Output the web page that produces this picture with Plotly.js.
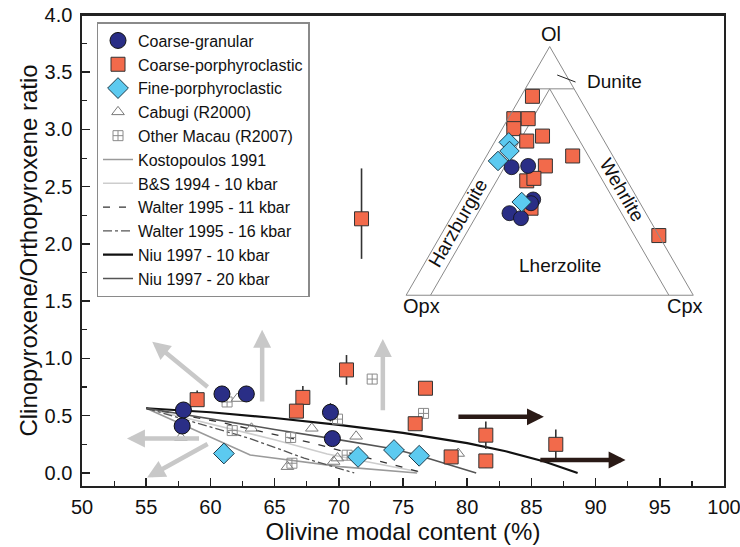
<!DOCTYPE html>
<html><head><meta charset="utf-8">
<script src="https://cdn.plot.ly/plotly-3.0.1.min.js"></script>
<style>html,body{margin:0;padding:0;background:#fff}#chart{width:740px;height:547px}</style>
</head><body><div id="chart"></div>
<script>
// ---- main diagram data ----
const xCG = [57.9, 57.8, 60.9, 62.8, 69.35, 69.5];
const yCG = [0.55, 0.41, 0.69, 0.69, 0.53, 0.30];
const eCG = [0.06, 0.05, 0.07, 0.07, 0.08, 0.05];

const xCP = [58.97, 67.2, 66.7, 70.6, 76.75, 75.95, 78.75, 81.45, 81.45, 86.9, 71.77];
const yCP = [0.64, 0.66, 0.54, 0.90, 0.74, 0.43, 0.14, 0.33, 0.105, 0.25, 2.22];
const ePlusCP = [0.08, 0.10, 0.04, 0.13, 0.04, 0.04, 0.04, 0.12, 0.06, 0.13, 0.44];
const eMinusCP = [0.04, 0.04, 0.04, 0.13, 0.04, 0.04, 0.04, 0.12, 0.06, 0.13, 0.35];

const xFP = [61.05, 71.5, 74.3, 76.26];
const yFP = [0.17, 0.14, 0.20, 0.15];

const xCab = [57.7, 62.1, 63.2, 67.9, 71.35, 69.9, 66.0, 69.6, 79.3];
const yCab = [0.31, 0.65, 0.39, 0.39, 0.32, 0.13, 0.055, 0.10, 0.17];

const xMac = [61.3, 61.7, 66.25, 72.6, 66.35, 70.65, 76.6, 69.9];
const yMac = [0.62, 0.37, 0.31, 0.82, 0.085, 0.155, 0.52, 0.47];

const xKosto = [55, 63.1, 70.1, 76.1];
const yKosto = [0.565, 0.157, 0.055, 0.0];
const xBS = [55, 60, 65, 69.1, 76.2];
const yBS = [0.565, 0.43, 0.29, 0.165, 0.01];
const xW11 = [55, 60.5, 68.0, 74.8, 76.6];
const yW11 = [0.565, 0.45, 0.26, 0.055, 0.0];
const xW16 = [55, 63.1, 67.3, 71.2];
const yW16 = [0.565, 0.30, 0.13, 0.0];
const xNiu10 = [55, 60, 65, 70, 75, 80, 83, 86, 88.6];
const yNiu10 = [0.565, 0.53, 0.48, 0.42, 0.35, 0.26, 0.19, 0.10, 0.0];
const xNiu20 = [55, 60, 65, 69.5, 74.3, 76.3, 80.7];
const yNiu20 = [0.565, 0.47, 0.38, 0.30, 0.21, 0.15, 0.0];

// arrows (head / tail)
const greyHeadX = [55.47, 64.03, 73.43, 53.5, 55.07];
const greyHeadY = [1.147, 1.25, 1.17, 0.30, -0.04];
const greyTailX = [59.9, 64.03, 73.43, 59.23, 59.9];
const greyTailY = [0.74, 0.61, 0.535, 0.30, 0.26];
const darkHeadX = [85.97, 92.33];
const darkHeadY = [0.49, 0.113];
const darkTailX = [79.2, 85.58];
const darkTailY = [0.49, 0.113];

// ---- ternary inset data (Ol, Opx, Cpx fractions) ----
const olCP  = [0.80, 0.71, 0.71, 0.67, 0.64, 0.62, 0.56, 0.52, 0.46, 0.47, 0.35, 0.24];
const opxCP = [0.16, 0.27, 0.22, 0.29, 0.205, 0.27, 0.14, 0.255, 0.35, 0.32, 0.39, 0.00];
const cpxCP = [0.04, 0.02, 0.07, 0.04, 0.155, 0.11, 0.30, 0.225, 0.19, 0.21, 0.26, 0.76];
const olCG  = [0.515, 0.52, 0.385, 0.37, 0.33, 0.31];
const opxCG = [0.375, 0.315, 0.365, 0.38, 0.475, 0.445];
const cpxCG = [0.11, 0.165, 0.25, 0.25, 0.195, 0.245];
const olFP  = [0.615, 0.58, 0.54, 0.375];
const opxFP = [0.335, 0.35, 0.41, 0.41];
const cpxFP = [0.05, 0.07, 0.05, 0.215];
// classification field boundaries
const olDun = [0.83, 0.83];  const opxDun = [0.17, 0.0];  const cpxDun = [0.0, 0.17];
const olHz  = [0.83, 0.0];   const opxHz  = [0.085, 0.915]; const cpxHz = [0.085, 0.085];
const olWh  = [0.83, 0.0];   const opxWh  = [0.085, 0.085]; const cpxWh = [0.085, 0.915];

const FONT = 'Liberation Sans, Arial, Helvetica, sans-serif';
const cNavy = '#2a2e86', cOrange = '#f26a4b', cBlue = '#5ccaf0';

const traces = [
  {x: xKosto, y: yKosto, mode: 'lines', name: 'Kostopoulos 1991', line: {color: '#9a9a9a', width: 1.6}, legendrank: 6},
  {x: xBS, y: yBS, mode: 'lines', name: 'B&S 1994 - 10 kbar', line: {color: '#cdcdcd', width: 1.6}, legendrank: 7},
  {x: xW11, y: yW11, mode: 'lines', name: 'Walter 1995 - 11 kbar', line: {color: '#333', width: 1.3, dash: '7px,9px'}, legendrank: 8},
  {x: xW16, y: yW16, mode: 'lines', name: 'Walter 1995 - 16 kbar', line: {color: '#555', width: 1.3, dash: 'dashdot'}, legendrank: 9},
  {x: xNiu10, y: yNiu10, mode: 'lines', name: 'Niu 1997 - 10 kbar', line: {color: '#111', width: 2.2}, legendrank: 10},
  {x: xNiu20, y: yNiu20, mode: 'lines', name: 'Niu 1997 - 20 kbar', line: {color: '#555', width: 1.6}, legendrank: 11},
  {x: xCab, y: yCab, mode: 'markers', name: 'Cabugi (R2000)', marker: {symbol: 'triangle-up-open', size: 11, color: '#7a7a7a', line: {width: 1}}, legendrank: 4},
  {x: xMac, y: yMac, mode: 'markers', name: 'Other Macau (R2007)', marker: {symbol: 'square-cross-open', size: 10, color: '#8a8a8a', line: {width: 1}}, legendrank: 5},
  {x: xCP, y: yCP, mode: 'markers', name: 'Coarse-porphyroclastic',
   marker: {symbol: 'square', size: 14, color: cOrange, line: {color: '#333', width: 1}},
   error_y: {type: 'data', symmetric: false, array: ePlusCP, arrayminus: eMinusCP, color: '#333', thickness: 1.6, width: 0}, legendrank: 2},
  {x: xCG, y: yCG, mode: 'markers', name: 'Coarse-granular',
   marker: {symbol: 'circle', size: 16, color: cNavy, line: {color: '#111', width: 1}},
   error_y: {type: 'data', array: eCG, color: '#333', thickness: 1.4, width: 0}, legendrank: 1},
  {x: xFP, y: yFP, mode: 'markers', name: 'Fine-porphyroclastic',
   marker: {symbol: 'diamond', size: 16, color: cBlue, line: {color: '#1d3b4a', width: 1}}, legendrank: 3},
  // ternary inset
  {type: 'scatterternary', a: olDun, b: opxDun, c: cpxDun, mode: 'lines', line: {color: '#8a8a8a', width: 1}, showlegend: false},
  {type: 'scatterternary', a: olHz, b: opxHz, c: cpxHz, mode: 'lines', line: {color: '#8a8a8a', width: 1}, showlegend: false},
  {type: 'scatterternary', a: olWh, b: opxWh, c: cpxWh, mode: 'lines', line: {color: '#8a8a8a', width: 1}, showlegend: false},
  {type: 'scatterternary', a: olCP, b: opxCP, c: cpxCP, mode: 'markers', showlegend: false, cliponaxis: false,
   marker: {symbol: 'square', size: 14, color: cOrange, line: {color: '#333', width: 1}}},
  {type: 'scatterternary', a: olCG, b: opxCG, c: cpxCG, mode: 'markers', showlegend: false, cliponaxis: false,
   marker: {symbol: 'circle', size: 15, color: cNavy, line: {color: '#111', width: 0.8}}},
  {type: 'scatterternary', a: olFP, b: opxFP, c: cpxFP, mode: 'markers', showlegend: false, cliponaxis: false,
   marker: {symbol: 'diamond', size: 15, color: cBlue, line: {color: '#1d3b4a', width: 1}}}
];

const annotations = [];
for (let i = 0; i < greyHeadX.length; i++) {
  annotations.push({x: greyHeadX[i], y: greyHeadY[i], ax: greyTailX[i], ay: greyTailY[i],
    xref: 'x', yref: 'y', axref: 'x', ayref: 'y', text: '', showarrow: true,
    arrowhead: 2, arrowsize: 0.8, arrowwidth: 4.5, arrowcolor: '#c8c8c8'});
}
for (let i = 0; i < darkHeadX.length; i++) {
  annotations.push({x: darkHeadX[i], y: darkHeadY[i], ax: darkTailX[i], ay: darkTailY[i],
    xref: 'x', yref: 'y', axref: 'x', ayref: 'y', text: '', showarrow: true,
    arrowhead: 2, arrowsize: 0.75, arrowwidth: 4.5, arrowcolor: '#2a1a16'});
}
const lab = (x, y, text, ang, size) => ({xref: 'paper', yref: 'paper', x: x, y: y, text: text, showarrow: false,
  textangle: ang || 0, xanchor: 'center', yanchor: 'middle', font: {family: FONT, size: size || 19, color: '#111'}});
annotations.push(lab(0.5864, 0.5584, 'Harzburgite', -60));
annotations.push(lab(0.8403, 0.6285, 'Wehrlite', 60));
annotations.push(lab(0.7453, 0.4692, 'Lherzolite'));
annotations.push(lab(0.8294, 0.8584, 'Dunite'));
annotations.push(lab(0.7305, 0.9597, 'Ol', 0, 20));
annotations.push(lab(0.5288, 0.3832, 'Opx', 0, 20));
annotations.push(lab(0.9400, 0.3832, 'Cpx', 0, 20));

const ternAxis = {title: {text: ''}, showgrid: false, showticklabels: false, ticks: '', linecolor: '#8a8a8a', linewidth: 1};

const layout = {
  width: 740, height: 547,
  margin: {l: 82, r: 16, t: 15, b: 61},
  paper_bgcolor: '#fff', plot_bgcolor: '#fff',
  font: {family: FONT, size: 20, color: '#111'},
  showlegend: true,
  legend: {x: 0.0226, y: 0.985, xanchor: 'left', yanchor: 'top', bgcolor: '#fff',
    bordercolor: '#8a8a8a', borderwidth: 1.5, font: {family: FONT, size: 16, color: '#111'},
    itemwidth: 30, tracegroupgap: 0},
  xaxis: {range: [50, 100], dtick: 5, tick0: 50, ticks: 'inside', ticklen: 8, tickwidth: 1.5, tickcolor: '#222',
    minor: {dtick: 2.5, ticks: 'inside', ticklen: 5, tickwidth: 1.2, tickcolor: '#222'},
    showline: true, linecolor: '#222', linewidth: 1.6, mirror: true, showgrid: false, zeroline: false,
    tickfont: {family: FONT, size: 20, color: '#111'}, ticklabelstandoff: 2, ticklabeloverflow: 'allow',
    title: {text: 'Olivine modal content (%)', font: {family: FONT, size: 24, color: '#111'}, standoff: 0}},
  yaxis: {range: [-0.114, 4.0], dtick: 0.5, tick0: 0, tickformat: '.1f', ticks: 'inside', ticklen: 8, tickwidth: 1.5, tickcolor: '#222',
    minor: {dtick: 0.25, ticks: 'inside', ticklen: 5, tickwidth: 1.2, tickcolor: '#222'},
    showline: true, linecolor: '#222', linewidth: 1.6, mirror: true, showgrid: false, zeroline: false,
    tickfont: {family: FONT, size: 20, color: '#111'}, ticklabelstandoff: 4, ticklabeloverflow: 'allow',
    title: {text: 'Clinopyroxene/Orthopyroxene ratio', font: {family: FONT, size: 24, color: '#111'}, standoff: 0}},
  ternary: {
    domain: {x: [0.504, 0.953], y: [0.405, 0.933]},
    bgcolor: 'rgba(0,0,0,0)', sum: 1,
    aaxis: ternAxis, baxis: ternAxis, caxis: ternAxis
  },
  shapes: [
    {type: 'line', xref: 'paper', yref: 'paper', x0: 0.7402, y0: 0.8726, x1: 0.7687, y1: 0.8577, line: {color: '#222', width: 1}},
    {type: 'line', xref: 'paper', yref: 'paper', x0: 0, y0: 1, x1: 1, y1: 1, line: {color: '#222', width: 2.2}}
  ],
  annotations: annotations
};

Plotly.newPlot('chart', traces, layout, {staticPlot: true, displayModeBar: false});
</script>
</body></html>
